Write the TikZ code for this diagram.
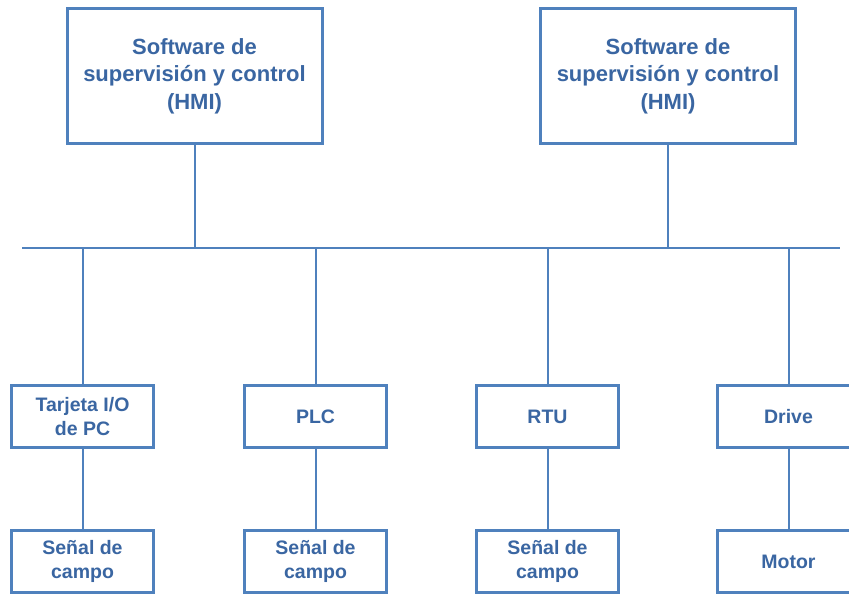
\documentclass[tikz,border=0pt]{standalone}
\usepackage{fontspec}
\setmainfont{Liberation Sans}
\usepackage{tikz}
\usetikzlibrary{positioning}
\definecolor{LineBlue}{HTML}{4F81BD}
\definecolor{TextBlue}{HTML}{3A66A2}

\begin{document}
\begin{tikzpicture}[
    x=1pt, y=-1pt,
    node distance=80pt,
    box/.style={rectangle, draw=LineBlue, line width=3pt, fill=white, align=center, text=TextBlue, font=\fontsize{19.5}{24}\selectfont\bfseries, minimum width=142pt, minimum height=62pt, inner sep=0pt},
    bigbox/.style={box, minimum width=255pt, minimum height=135pt, font=\fontsize{22}{27.5}\selectfont\bfseries},
    link/.style={draw=LineBlue, line width=2pt}
]
\useasboundingbox (0,0) rectangle (849,595);
\clip (0,0) rectangle (849,595);

% bus
\coordinate (busL) at (22,248);
\coordinate (busR) at (840,248);
\draw[link] (busL) -- (busR);

% supervision software
\node[bigbox] (hmiL) at (194.5,76) {Software de\\supervisión y control\\(HMI)};
\node[bigbox] (hmiR) at (668,76) {Software de\\supervisión y control\\(HMI)};

% devices
\node[box] (io) at (82.5,416.5) {Tarjeta I/O\\de PC};
\node[box] (plc) at (315.5,416.5) {PLC};
\node[box] (rtu) at (547.5,416.5) {RTU};
\node[box] (drive) at (788.5,416.5) {Drive};

% field
\node[box, below=of io] (campoA) {Señal de\\campo};
\node[box, below=of plc] (campoB) {Señal de\\campo};
\node[box, below=of rtu] (campoC) {Señal de\\campo};
\node[box, below=of drive] (motor) {Motor};

\draw[link] (hmiL.south) -- (hmiL.south |- busL);
\draw[link] (hmiR.south) -- (hmiR.south |- busL);
\foreach \dev/\fld in {io/campoA, plc/campoB, rtu/campoC, drive/motor} {
  \draw[link] (busL -| \dev.north) -- (\dev.north);
  \draw[link] (\dev.south) -- (\fld.north);
}

\end{tikzpicture}
\end{document}
